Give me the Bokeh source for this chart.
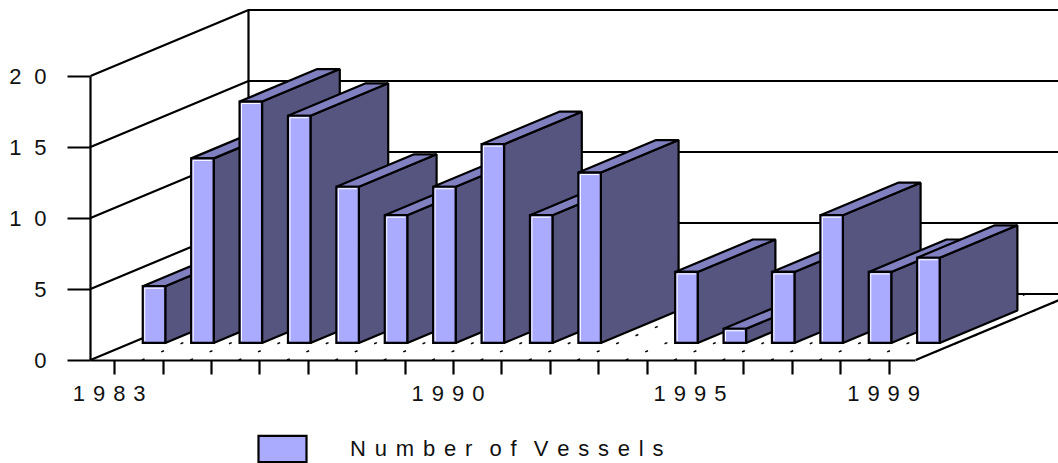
from bokeh.plotting import figure
from bokeh.embed import file_html
from bokeh.resources import INLINE
from bokeh.models import FixedTicker, Legend, LegendItem, ColumnDataSource, LinearAxis

years = list(range(1983, 2000))
vessels = [4, 13, 17, 16, 11, 9, 11, 14, 9, 12, 0, 5, 1, 5, 9, 5, 6]
y_ticks = [0, 5, 10, 15, 20]
labelled_years = [1983, 1990, 1995, 1999]
series_name = "Number of Vessels"

FRONT, TOP, SIDE = "#AAAAFF", "#8080C0", "#555580"
FONT = "Liberation Sans"
TEXT = "#111111"
FS = "22px"
GAP = " \u200a"
GAP_Y = "\u2002\u200a"
GAP_L = "\u2009\u2009"
WORD_L = " \u2002"

def spaced(s, gap=GAP):
    return gap.join(list(s))

# 3D projection, in data units
DX = 158 / 48.4
DY = 66 / 14.2
def proj(x, y, d):
    return x + d * DX, y + d * DY

X0, X1 = 1982.5, 2002.5
X_START = X0 - 90 / 48.4
FLOOR_END = 1999.55
Y_START, Y_END = -103.5 / 14.2, 359.5 / 14.2

p = figure(width=1058, height=463, output_backend="svg", toolbar_location=None,
           x_range=(X_START, X1), y_range=(Y_START, Y_END),
           min_border_left=0, min_border_right=0, min_border_top=0, min_border_bottom=0,
           x_axis_location=None, y_axis_location=None)
p.frame_width = 1058
p.frame_height = 463
p.grid.visible = False
p.outline_line_color = None
p.background_fill_color = "white"

LW = 2.2
# gridlines on the left wall and the back wall
for v in y_ticks:
    bx, by = proj(X0, v, 1)
    p.line([X0, bx, X1], [v, by, by], line_color="black", line_width=LW)
bx, by0 = proj(X0, 0, 1)
_, by1 = proj(X0, y_ticks[-1], 1)
p.line([bx, bx], [by0, by1], line_color="black", line_width=LW)
# right floor edge
ex, ey = proj(FLOOR_END, 0, 1)
p.line([FLOOR_END, ex], [0, ey], line_color="black", line_width=LW)

# dotted floor lines
for yr in years:
    x = yr + 0.56
    x1, y1 = proj(x, 0, 1)
    p.line([x, x1], [0, y1], line_color="black", line_width=1.5, line_dash="3 18")

# bars
BW = 22.5 / 48.4
D0, D1 = 0.258, 0.75
SHIFT = -0.03
front_r = None
for yr, v in zip(years, vessels):
    if v == 0:
        continue
    l, r = yr + SHIFT - BW / 2, yr + SHIFT + BW / 2
    fxl, fy0 = proj(l, 0, D0)
    fxr, _ = proj(r, 0, D0)
    fyt = fy0 + v
    bxl, byb = proj(l, 0, D1)
    bxr, _ = proj(r, 0, D1)
    byt = byb + v
    p.patch([fxr, bxr, bxr, fxr], [fy0, byb, byt, fyt], fill_color=SIDE, line_color="black", line_width=LW)
    p.patch([fxl, bxl, bxr, fxr], [fyt, byt, byt, fyt], fill_color=TOP, line_color="black", line_width=LW)
    src = ColumnDataSource(dict(x=[fxl, fxl, fxr, fxr], y=[fy0, fyt, fyt, fy0]))
    g = p.patch("x", "y", source=src, fill_color=FRONT, line_color="black", line_width=LW, line_join="miter")
    if front_r is None:
        front_r = g
    ox, oy = 2 / 48.4, 2 / 14.2
    p.line([fxl + ox, fxl + ox, fxr - ox], [fy0 + oy, fyt - oy, fyt - oy], line_color="white", line_width=1)

# axes
xa = LinearAxis(ticker=FixedTicker(ticks=years), bounds=(X0, FLOOR_END), fixed_location=0,
                major_label_overrides={y: (spaced(str(y)) + "\u2002" if y in labelled_years else "") for y in years},
                major_tick_in=0, major_tick_out=14, minor_tick_line_color=None,
                axis_line_color="black", axis_line_width=LW, major_tick_line_color="black", major_tick_line_width=LW,
                major_label_text_font=FONT, major_label_text_font_size=FS, major_label_text_color=TEXT,
                major_label_standoff=7)
ya = LinearAxis(ticker=FixedTicker(ticks=y_ticks), bounds=(0, y_ticks[-1]), fixed_location=X0,
                major_label_overrides={v: spaced(str(v), GAP_Y) for v in y_ticks},
                major_tick_in=0, major_tick_out=23, minor_tick_line_color=None,
                axis_line_color="black", axis_line_width=LW, major_tick_line_color="black", major_tick_line_width=LW,
                major_label_text_font=FONT, major_label_text_font_size=FS, major_label_text_color=TEXT,
                major_label_standoff=21)
p.add_layout(xa, "below")
p.add_layout(ya, "left")

legend_label = WORD_L.join(spaced(w, GAP_L) for w in series_name.split(" "))
legend = Legend(items=[LegendItem(label=legend_label, renderers=[front_r])],
                location=(252, -2), orientation="horizontal", border_line_color=None,
                background_fill_alpha=0, glyph_width=60, glyph_height=33, label_standoff=38,
                padding=0, margin=0,
                label_text_font=FONT, label_text_font_size=FS, label_text_color=TEXT)
p.add_layout(legend, "center")

open("out.html", "w").write(file_html(p, INLINE))
